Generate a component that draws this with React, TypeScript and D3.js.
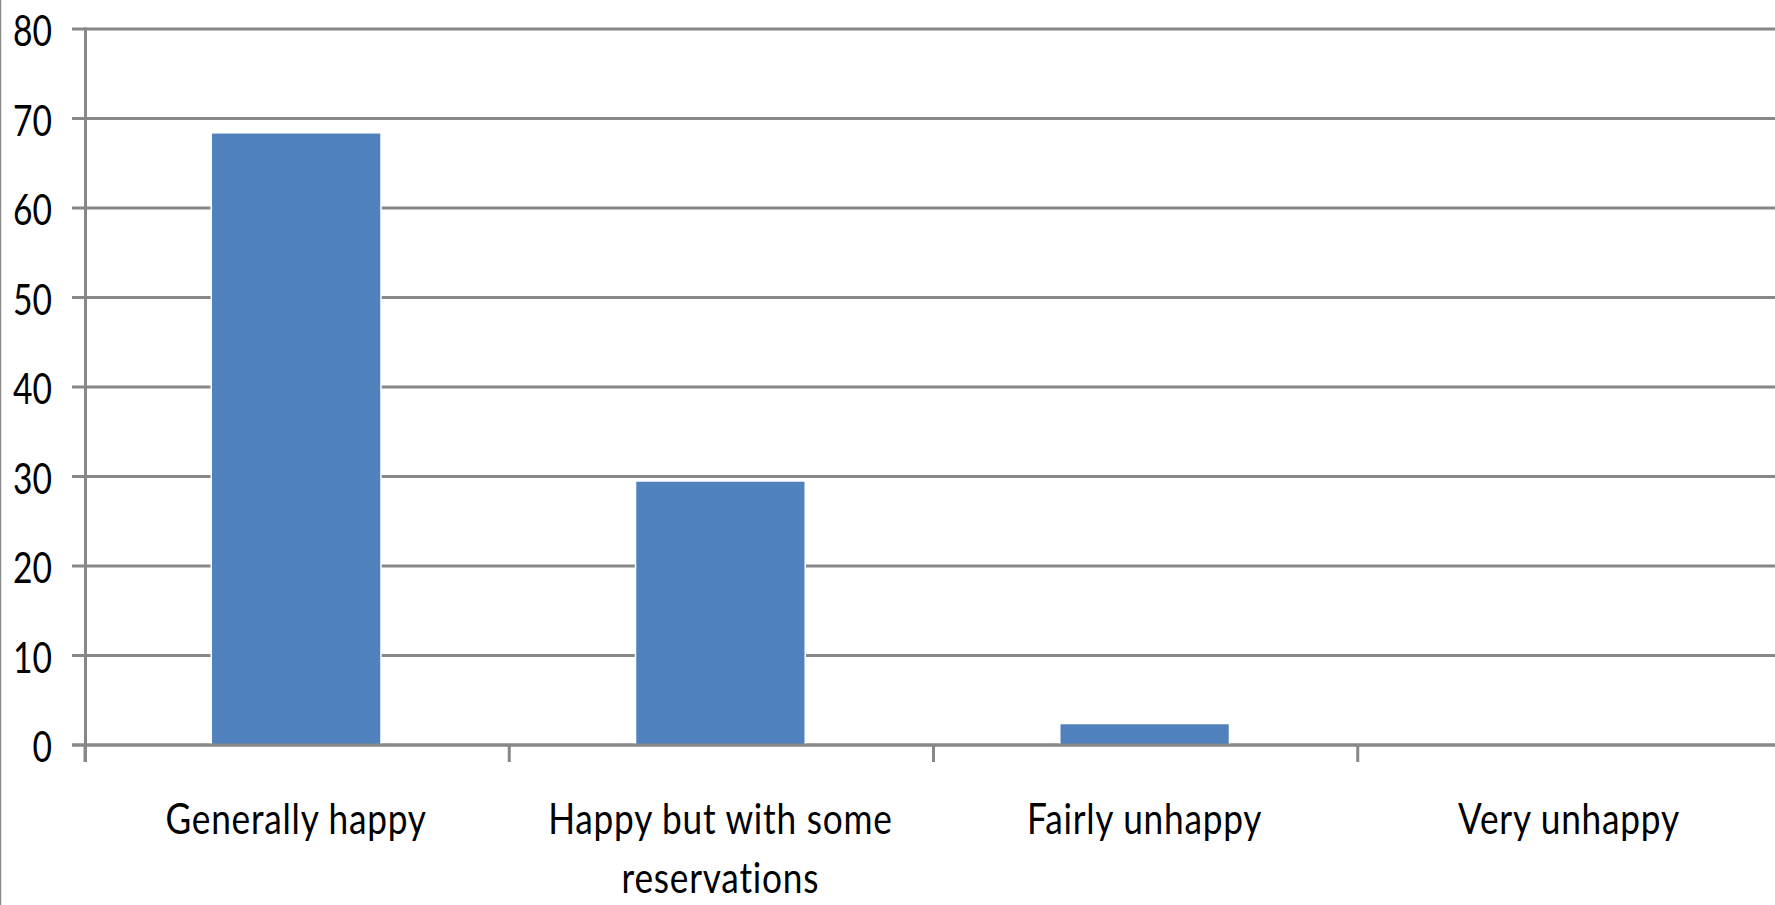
import React from "react";
import * as d3 from "d3";

const categories = ["Generally happy", "Happy but with some reservations", "Fairly unhappy", "Very unhappy"];
const categoryLines = [["Generally happy"], ["Happy but with some", "reservations"], ["Fairly unhappy"], ["Very unhappy"]];
const values = [68.4, 29.5, 2.4, 0];
const yTicks = [0, 10, 20, 30, 40, 50, 60, 70, 80];

const W = 1775;
const H = 905;
const GRID = "#878787";
const BAR = "#4F81BD";
const FONT = "Lato, 'Open Sans', sans-serif";
const SX = 0.8;
const SXC = 0.84;

export default function App() {
  const x = d3.scaleBand<string>().domain(categories).range([84, 1781]).paddingInner(0.6).paddingOuter(0.3);
  const y = d3.scaleLinear().domain([0, 80]).range([745, 29]);
  const step = x.step();
  const bounds = d3.range(categories.length + 1).map((i) => 85 + i * step);

  return (
    <svg width={W} height={H} style={{ position: "absolute", left: 0, top: 0, display: "block", background: "#fff" }}>
      <rect x={0} y={0} width={W} height={H} fill="#fff" />
      <line x1={0.5} x2={0.5} y1={0} y2={H} stroke="#8c8c8c" strokeWidth={1.5} />
      {yTicks.map((t) => (
        <line key={"g" + t} x1={72} x2={W} y1={y(t)} y2={y(t)} stroke={GRID} strokeWidth={3} />
      ))}
      {categories.map((c, i) => (
        <rect
          key={c}
          x={x(c)!}
          y={y(values[i])}
          width={x.bandwidth()}
          height={Math.max(0, y(0) - y(values[i]))}
          fill={BAR}
          stroke="#fff"
          strokeWidth={values[i] > 0 ? 1.5 : 0}
        />
      ))}
      <line x1={72} x2={W} y1={y(0)} y2={y(0)} stroke={GRID} strokeWidth={3} />
      <line x1={85.5} x2={85.5} y1={y(80) - 1.5} y2={762} stroke={GRID} strokeWidth={3} />
      {bounds.map((b, i) => (
        <line key={"xt" + i} x1={b} x2={b} y1={y(0)} y2={762} stroke={GRID} strokeWidth={3} />
      ))}
      {yTicks.map((t) => (
        <text
          key={"l" + t}
          transform={`translate(52,${y(t) + 17}) scale(${SX},1)`}
          textAnchor="end"
          fontFamily={FONT}
          fontSize={42}
          fill="#000"
        >
          {t}
        </text>
      ))}
      {categories.map((c, i) => (
        <g key={"c" + c}>
          {categoryLines[i].map((ln, j) => (
            <text
              key={ln}
              transform={`translate(${x(c)! + x.bandwidth() / 2},${834 + j * 59}) scale(${SXC},1)`}
              textAnchor="middle"
              fontFamily={FONT}
              fontSize={42}
              letterSpacing={0.9}
              fill="#000"
            >
              {ln}
            </text>
          ))}
        </g>
      ))}
    </svg>
  );
}
